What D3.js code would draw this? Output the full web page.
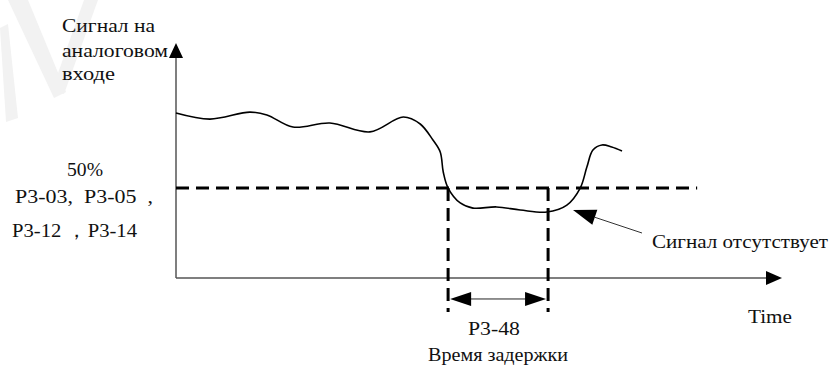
<!DOCTYPE html>
<html><head><meta charset="utf-8">
<script src="https://cdn.jsdelivr.net/npm/d3@7"></script>
<style>
html,body{margin:0;padding:0;background:#fff;}
</style></head>
<body><svg id="c" width="829" height="367"></svg>
<script>
// Signal curve (time 0..100, signal 0..100)
const signalT = [0, 5.6, 12.2, 15.0, 19.3, 25.4, 32.0, 37.5, 40.3, 42.4, 43.6, 44.1, 44.9, 46.9, 49.0, 52.9, 56.8, 61.2, 64.5, 66.7, 67.8, 68.8, 70.3, 71.9, 73.6];
const signalS = [70.8, 68.2, 71.2, 70.0, 64.8, 66.5, 62.7, 69.1, 66.1, 59.2, 54.1, 45.5, 38.6, 32.2, 30.0, 30.5, 29.2, 28.3, 31.3, 38.6, 47.6, 54.9, 57.1, 56.2, 54.5];
const threshold = 38.6;       // 50% level
const thresholdEnd = 86.0;
const delayStart = 44.9, delayEnd = 61.4;
const delayBottom = -14.6, delayArrowLevel = -9;
const yLabel = ["Сигнал на", "аналоговом", "входе"];
const levelLabel = ["50%", "P3-03,  P3-05  ,", "P3-12 ，P3-14"];
const xLabel = "Time";
const delayLabel = ["P3-48", "Время задержки"];
const noSignalLabel = "Сигнал отсутствует";

const svg = d3.select("#c");
const x = d3.scaleLinear().domain([0, 100]).range([176, 782]);
const y = d3.scaleLinear().domain([0, 100]).range([278, 45]);

// watermark
const wm = svg.append("g").attr("fill", "#f2f2f2");
[[[8,0],[28,0],[66,92],[54,98]],[[84,0],[98,0],[64,94],[52,90]],[[0,28],[8,24],[18,118],[6,122]]].forEach(p=>{
  wm.append("path").attr("d", d3.line()(p) + "Z");
});

// axes
const axisColor = "#555";
svg.append("line").attr("x1", x(0)).attr("x2", x(0)).attr("y1", y(0)).attr("y2", y(100)+12)
  .attr("stroke", axisColor).attr("stroke-width", 1.5);
svg.append("path").attr("d", d3.line()([[x(0)-7, y(100)+13],[x(0), y(100)-2],[x(0)+7, y(100)+13]])+"Z").attr("fill","#000");
svg.append("line").attr("x1", x(0)).attr("x2", x(100)-14).attr("y1", y(0)).attr("y2", y(0))
  .attr("stroke", axisColor).attr("stroke-width", 1.5);
svg.append("path").attr("d", d3.line()([[x(100)-16, y(0)-7],[x(100), y(0)],[x(100)-16, y(0)+7]])+"Z").attr("fill","#000");

// threshold dashed line
svg.append("line").attr("x1", x(0)).attr("x2", x(thresholdEnd)).attr("y1", y(threshold)).attr("y2", y(threshold))
  .attr("stroke", "#000").attr("stroke-width", 3).attr("stroke-dasharray", "13,7");

// delay vertical dashed lines
[delayStart, delayEnd].forEach(t => {
  svg.append("line").attr("x1", x(t)).attr("x2", x(t)).attr("y1", y(threshold)).attr("y2", y(delayBottom))
    .attr("stroke", "#000").attr("stroke-width", 3).attr("stroke-dasharray", "13,7");
});

// double arrow
const ay = y(delayArrowLevel), ax1 = x(delayStart)+2, ax2 = x(delayEnd)-2;
svg.append("line").attr("x1", ax1+18).attr("x2", ax2-18).attr("y1", ay).attr("y2", ay).attr("stroke","#222").attr("stroke-width",1);
svg.append("path").attr("d", d3.line()([[ax1, ay],[ax1+21, ay-7],[ax1+21, ay+7]])+"Z").attr("fill","#000");
svg.append("path").attr("d", d3.line()([[ax2, ay],[ax2-21, ay-7],[ax2-21, ay+7]])+"Z").attr("fill","#000");

// signal curve
const pts = signalT.map((t,i)=>[x(t), y(signalS[i])]);
svg.append("path").attr("d", d3.line().curve(d3.curveCatmullRom.alpha(0.5))(pts))
  .attr("fill","none").attr("stroke","#000").attr("stroke-width",1.6);

// annotation arrow
const tip = [573, 210], tail = [642, 233];
const ang = Math.atan2(tail[1]-tip[1], tail[0]-tip[0]);
const hl = 23, hw = 8;
const bx = tip[0] + hl*Math.cos(ang), by = tip[1] + hl*Math.sin(ang);
svg.append("line").attr("x1", bx).attr("y1", by).attr("x2", tail[0]).attr("y2", tail[1]).attr("stroke","#333").attr("stroke-width",1);
svg.append("path").attr("d", d3.line()([tip,[bx - hw*Math.sin(ang), by + hw*Math.cos(ang)],[bx + hw*Math.sin(ang), by - hw*Math.cos(ang)]])+"Z").attr("fill","#000");

// texts
const labels = [
  [yLabel[0], 62, 32, 93],
  [yLabel[1], 62, 57, 106],
  [yLabel[2], 62, 80, 53],
  [levelLabel[0], 67, 176, 36],
  [levelLabel[1], 15, 203, 138],
  [levelLabel[2], 12, 237, 125],
  [noSignalLabel, 652, 248, 176],
  [xLabel, 748, 323, 44],
  [delayLabel[0], 468, 335, 52],
  [delayLabel[1], 428, 361, 140]
];
labels.forEach(([s, lx, ly, w]) => {
  svg.append("text").attr("x", lx).attr("y", ly)
    .attr("font-family", "'Liberation Serif'").attr("font-size", 19.5).attr("fill", "#111")
    .attr("textLength", w).attr("lengthAdjust", "spacingAndGlyphs")
    .attr("xml:space", "preserve").text(s);
});
</script></body></html>
